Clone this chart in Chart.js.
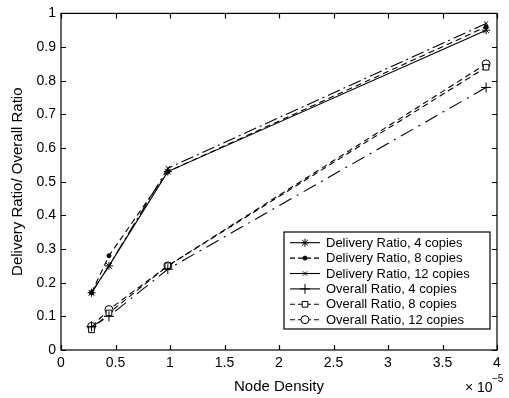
<!DOCTYPE html>
<html>
<head>
<meta charset="utf-8">
<style>
  html, body { margin: 0; padding: 0; background: #fff; }
  #c { display: block; }
</style>
<script src="https://cdn.jsdelivr.net/npm/chart.js@4/dist/chart.umd.min.js"></script>
</head>
<body>
<canvas id="c" width="509" height="398"></canvas>
<script>
// ---- data (x in units of 10^-5) ----
const nodeDensity = [0.28, 0.44, 0.98, 3.9];
const deliveryRatio4  = [0.17, 0.25, 0.53, 0.95];
const deliveryRatio8  = [0.17, 0.28, 0.53, 0.96];
const deliveryRatio12 = [0.17, 0.25, 0.54, 0.97];
const overallRatio4   = [0.07, 0.10, 0.24, 0.78];
const overallRatio8   = [0.06, 0.11, 0.25, 0.84];
const overallRatio12  = [0.07, 0.12, 0.25, 0.85];
const seriesLabels = [
  'Delivery Ratio, 4 copies', 'Delivery Ratio, 8 copies', 'Delivery Ratio, 12 copies',
  'Overall Ratio, 4 copies', 'Overall Ratio, 8 copies', 'Overall Ratio, 12 copies'
];
const xTickValues = [0, 0.5, 1, 1.5, 2, 2.5, 3, 3.5, 4];
const yTickValues = [0, 0.1, 0.2, 0.3, 0.4, 0.5, 0.6, 0.7, 0.8, 0.9, 1];
const xAxisTitle = 'Node Density';
const yAxisTitle = 'Delivery Ratio/ Overall Ratio';
const xMultiplierBase = '\u00d7 10';
const xMultiplierExp = '\u22125';

const FONT = 'Liberation Sans, Arial, Helvetica, sans-serif';
const pts = ys => nodeDensity.map((x, i) => ({ x: x, y: ys[i] }));

const styles = [
  { dash: [],            legendDash: [], pointStyle: 'star',     radius: 4, bg: '#000' },
  { dash: [6, 4],        legendDash: [5, 3], pointStyle: 'circle', radius: 2, bg: '#000' },
  { dash: [13, 4, 2, 4], legendDash: [], pointStyle: 'crossRot', radius: 3, bg: '#000' },
  { dash: [14, 6, 2, 6], legendDash: [], pointStyle: 'cross',    radius: 5, bg: '#000' },
  { dash: [6, 4],        legendDash: [5, 3], pointStyle: 'rect', radius: 4, bg: '#fff' },
  { dash: [6, 4],        legendDash: [5, 3], pointStyle: 'circle', radius: 4, bg: '#fff' }
];
const seriesValues = [deliveryRatio4, deliveryRatio8, deliveryRatio12, overallRatio4, overallRatio8, overallRatio12];

const datasets = seriesValues.map((vals, i) => ({
  label: seriesLabels[i],
  data: pts(vals),
  borderColor: '#000',
  borderWidth: 1.1,
  borderDash: styles[i].dash,
  legendDash: styles[i].legendDash,
  pointStyle: styles[i].pointStyle,
  pointRadius: styles[i].radius,
  pointBorderColor: '#000',
  pointBackgroundColor: styles[i].bg,
  pointBorderWidth: 1,
  fill: false,
  tension: 0
}));

const fmt = v => String(Number(v.toFixed(2)));

const framePlugin = {
  id: 'frameTicksLegend',
  afterDraw(chart) {
    const ctx = chart.ctx;
    const { left, right, top, bottom } = chart.chartArea;
    const xs = chart.scales.x, ys = chart.scales.y;
    ctx.save();
    ctx.strokeStyle = '#000';
    ctx.lineWidth = 1.2;
    ctx.setLineDash([]);
    ctx.strokeRect(left, top, right - left, bottom - top);
    const tl = 5;
    ctx.beginPath();
    xTickValues.forEach(v => {
      const px = Math.round(xs.getPixelForValue(v)) + 0.5;
      ctx.moveTo(px, bottom); ctx.lineTo(px, bottom - tl);
      ctx.moveTo(px, top); ctx.lineTo(px, top + tl);
    });
    yTickValues.forEach(v => {
      const py = Math.round(ys.getPixelForValue(v)) + 0.5;
      ctx.moveTo(left, py); ctx.lineTo(left + tl, py);
      ctx.moveTo(right, py); ctx.lineTo(right - tl, py);
    });
    ctx.stroke();

    // legend
    const bx = 284, by = 232, bw = 206, bh = 97;
    ctx.fillStyle = '#fff';
    ctx.fillRect(bx, by, bw, bh);
    ctx.lineWidth = 1.2;
    ctx.strokeRect(bx, by, bw, bh);
    ctx.font = '13px ' + FONT;
    ctx.textBaseline = 'middle';
    ctx.textAlign = 'left';
    chart.data.datasets.forEach((ds, i) => {
      const cy = 242.7 + i * 15.4;
      ctx.save();
      ctx.strokeStyle = '#000';
      ctx.lineWidth = 1.1;
      ctx.setLineDash(ds.legendDash || []);
      ctx.beginPath();
      ctx.moveTo(290, cy); ctx.lineTo(320, cy);
      ctx.stroke();
      ctx.setLineDash([]);
      ctx.fillStyle = ds.pointBackgroundColor;
      ctx.strokeStyle = '#000';
      ctx.lineWidth = 1;
      if (Chart.helpers && Chart.helpers.drawPoint) {
        Chart.helpers.drawPoint(ctx, { pointStyle: ds.pointStyle, radius: ds.pointRadius, borderWidth: 1, rotation: 0 }, 305, cy);
      }
      ctx.restore();
      ctx.fillStyle = '#000';
      ctx.fillText(ds.label, 326, cy + 0.5);
    });

    // x multiplier
    ctx.fillStyle = '#000';
    ctx.font = '14px ' + FONT;
    ctx.textBaseline = 'alphabetic';
    ctx.fillText(xMultiplierBase, 465, 392);
    ctx.font = '10px ' + FONT;
    ctx.fillText(xMultiplierExp, 492, 382);
    ctx.restore();
  }
};

new Chart(document.getElementById('c'), {
  type: 'line',
  data: { datasets: datasets },
  options: {
    responsive: false,
    animation: false,
    layout: { padding: { top: 12, right: 12, left: 0, bottom: 0 } },
    plugins: { legend: { display: false }, tooltip: { enabled: false } },
    scales: {
      x: {
        type: 'linear', min: 0, max: 4,
        afterFit: s => { s.height = 48; },
        afterBuildTicks: s => { s.ticks = xTickValues.map(v => ({ value: v })); },
        grid: { display: false, drawTicks: false },
        border: { display: false },
        ticks: { color: '#000', font: { family: FONT, size: 14 }, padding: 5, callback: v => fmt(v), maxRotation: 0, autoSkip: false },
        title: { display: true, text: xAxisTitle, color: '#000', font: { family: FONT, size: 15 }, padding: { top: 0, bottom: 2 } }
      },
      y: {
        type: 'linear', min: 0, max: 1,
        afterFit: s => { s.width = 61; },
        afterBuildTicks: s => { s.ticks = yTickValues.map(v => ({ value: v })); },
        grid: { display: false, drawTicks: false },
        border: { display: false },
        ticks: { color: '#000', font: { family: FONT, size: 14 }, padding: 5, callback: v => fmt(v), autoSkip: false },
        title: { display: true, text: yAxisTitle, color: '#000', font: { family: FONT, size: 15 }, padding: { top: 9, bottom: 0 } }
      }
    }
  },
  plugins: [framePlugin]
});
</script>
</body>
</html>
